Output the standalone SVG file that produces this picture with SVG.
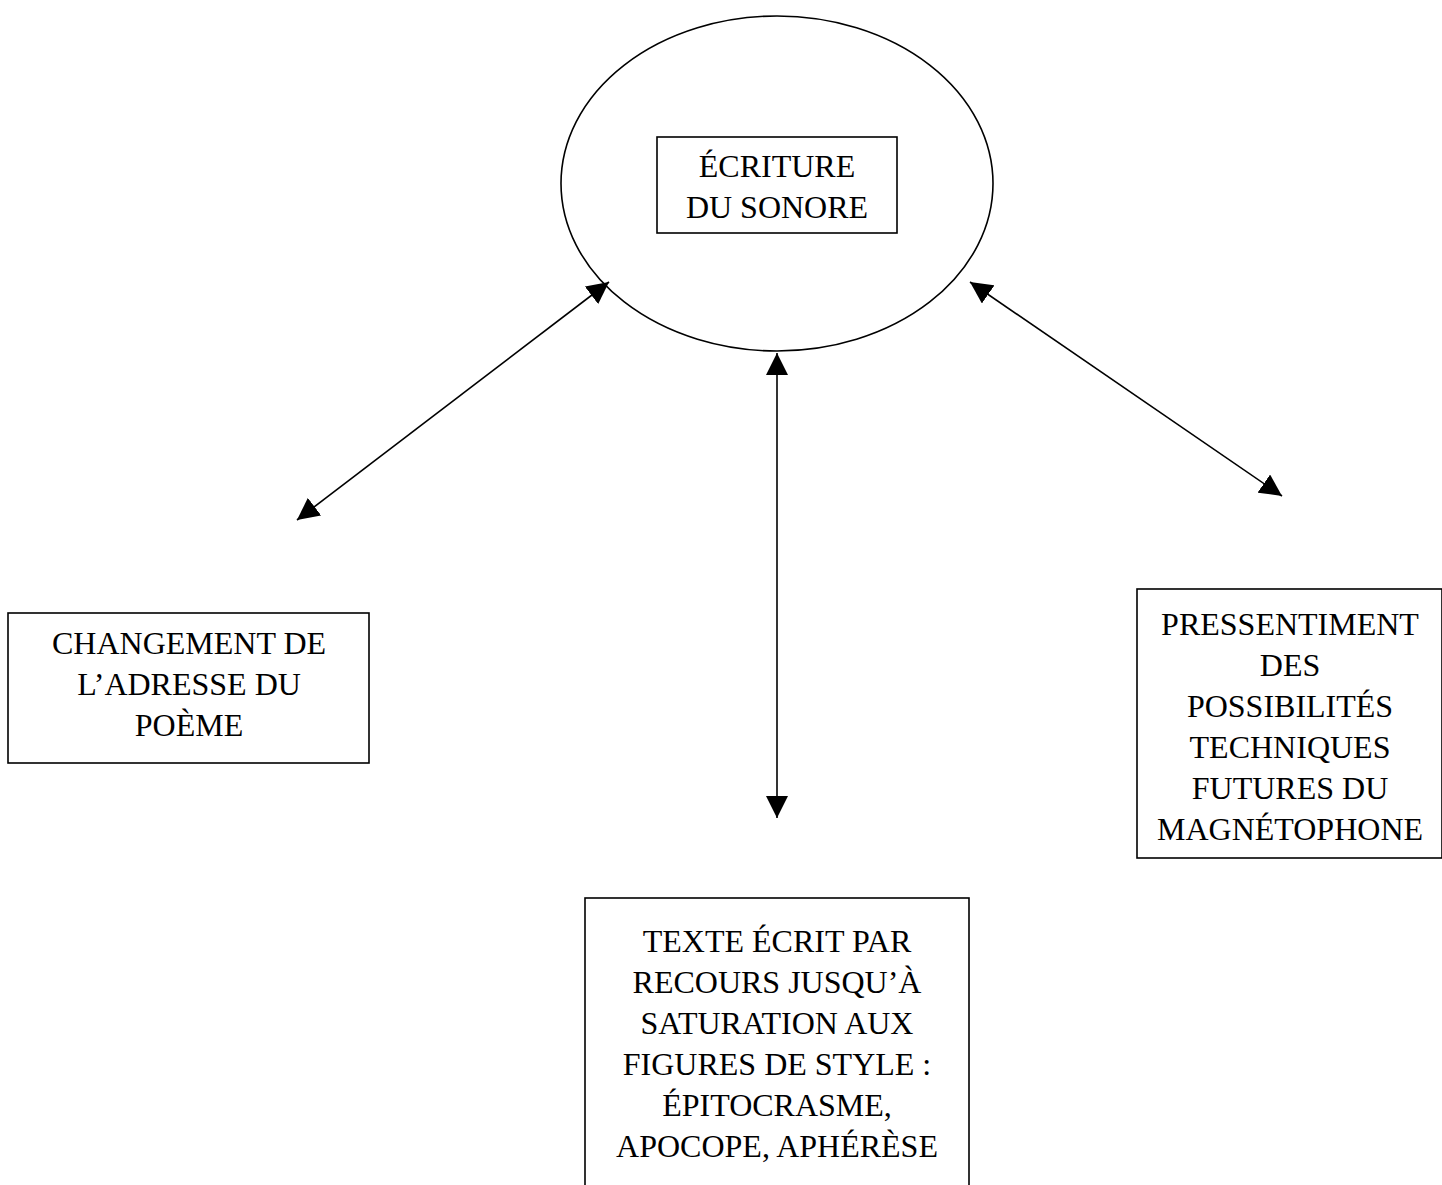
<svg xmlns="http://www.w3.org/2000/svg" width="1442" height="1185" viewBox="0 0 1442 1185">
<style>
.shape{fill:#fff;stroke:#000;stroke-width:1.6}
.lbl{font-family:"Liberation Serif","Times New Roman",serif;font-size:32px;fill:#000;text-anchor:middle}
.conn{stroke:#000;stroke-width:1.6;fill:none;marker-start:url(#ah);marker-end:url(#ah)}
</style>
<defs>
<marker id="ah" markerUnits="userSpaceOnUse" markerWidth="22" markerHeight="22" viewBox="0 0 20 20" refX="20" refY="10" orient="auto-start-reverse">
<path d="M0,0 L20,10 L0,20 Z" fill="#000"/>
</marker>
</defs>
<rect width="1442" height="1185" fill="#fff"/>
<g id="n-center">
<ellipse class="shape" cx="777" cy="183.5" rx="216" ry="167.5"/>
<rect class="shape" x="657" y="137" width="240" height="96"/>
<text class="lbl" x="777" y="177">ÉCRITURE</text>
<text class="lbl" x="777" y="218">DU SONORE</text>
</g>
<g id="n-left">
<rect class="shape" x="8" y="613" width="361" height="150"/>
<text class="lbl" x="189" y="654">CHANGEMENT DE</text>
<text class="lbl" x="189" y="695">L’ADRESSE DU</text>
<text class="lbl" x="189" y="736">POÈME</text>
</g>
<g id="n-right">
<rect class="shape" x="1137" y="589" width="305" height="269"/>
<text class="lbl" x="1290" y="635">PRESSENTIMENT</text>
<text class="lbl" x="1290" y="676">DES</text>
<text class="lbl" x="1290" y="717">POSSIBILITÉS</text>
<text class="lbl" x="1290" y="758">TECHNIQUES</text>
<text class="lbl" x="1290" y="799">FUTURES DU</text>
<text class="lbl" x="1290" y="840">MAGNÉTOPHONE</text>
</g>
<g id="n-bottom">
<rect class="shape" x="585" y="898" width="384" height="300"/>
<text class="lbl" x="777" y="952">TEXTE ÉCRIT PAR</text>
<text class="lbl" x="777" y="993">RECOURS JUSQU’À</text>
<text class="lbl" x="777" y="1034">SATURATION AUX</text>
<text class="lbl" x="777" y="1075">FIGURES DE STYLE :</text>
<text class="lbl" x="777" y="1116">ÉPITOCRASME,</text>
<text class="lbl" x="777" y="1157">APOCOPE, APHÉRÈSE</text>
</g>
<g id="connectors">
<line class="conn" x1="609" y1="282" x2="297" y2="520"/>
<line class="conn" x1="777" y1="353" x2="777" y2="818"/>
<line class="conn" x1="970" y1="282" x2="1282" y2="496"/>
</g>
</svg>
